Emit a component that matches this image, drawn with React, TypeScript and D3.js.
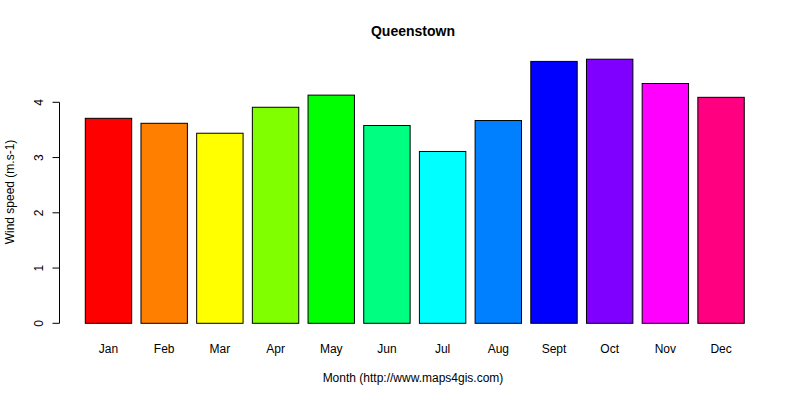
import { useEffect, useRef } from 'react';
import * as d3 from 'd3';

const months = ['Jan', 'Feb', 'Mar', 'Apr', 'May', 'Jun', 'Jul', 'Aug', 'Sept', 'Oct', 'Nov', 'Dec'];
const windSpeed = [3.71, 3.62, 3.44, 3.91, 4.13, 3.58, 3.11, 3.67, 4.74, 4.78, 4.34, 4.09];
const barColors = ['#FF0000', '#FF8000', '#FFFF00', '#80FF00', '#00FF00', '#00FF80', '#00FFFF', '#0080FF', '#0000FF', '#8000FF', '#FF00FF', '#FF0080'];
const yTicks = [0, 1, 2, 3, 4];

export default function App() {
    const svgRef = useRef<SVGSVGElement>(null);

    useEffect(() => {
        if (!svgRef.current) return;
        const W = 800, H = 400;
        const font = 'Arial, "Liberation Sans", sans-serif';

        const svg = d3.select(svgRef.current);
        svg.selectAll('*').remove();
        svg.append('rect').attr('width', W).attr('height', H).attr('fill', '#fff');

        const x = d3.scaleBand<string>()
            .domain(months)
            .range([80.65, 748.9])
            .paddingInner(1 / 6)
            .paddingOuter(1 / 12);
        const y = d3.scaleLinear().domain([0, 4]).range([323.3, 102.3]);

        // Bars
        svg.selectAll('.bar')
            .data(windSpeed)
            .join('rect')
            .attr('class', 'bar')
            .attr('x', (_, i) => x(months[i])!)
            .attr('y', d => y(d))
            .attr('width', x.bandwidth())
            .attr('height', d => y(0) - y(d))
            .attr('fill', (_, i) => barColors[i])
            .attr('stroke', '#000').attr('stroke-width', 1);

        // Month labels
        svg.selectAll('.mlbl')
            .data(months)
            .join('text')
            .attr('class', 'mlbl')
            .attr('x', d => x(d)! + x.bandwidth() / 2)
            .attr('y', 353)
            .attr('text-anchor', 'middle')
            .attr('font-family', font).attr('font-size', 12)
            .text(d => d);

        // Y axis
        const ax = svg.append('g').attr('transform', 'translate(59.5,0)');
        ax.append('line')
            .attr('x1', 0).attr('x2', 0)
            .attr('y1', y(0)).attr('y2', y(4))
            .attr('stroke', '#000');
        ax.selectAll('.tick')
            .data(yTicks)
            .join('line')
            .attr('x1', -7).attr('x2', 0)
            .attr('y1', d => y(d)).attr('y2', d => y(d))
            .attr('stroke', '#000');
        ax.selectAll('.tlbl')
            .data(yTicks)
            .join('text')
            .attr('transform', d => `translate(-17,${y(d)}) rotate(-90)`)
            .attr('text-anchor', 'middle')
            .attr('font-family', font).attr('font-size', 12)
            .text(d => d);

        // Title & axis labels
        svg.append('text')
            .attr('x', 413).attr('y', 36)
            .attr('text-anchor', 'middle')
            .attr('font-family', font).attr('font-size', 14).attr('font-weight', 'bold')
            .text('Queenstown');
        svg.append('text')
            .attr('x', 413).attr('y', 382)
            .attr('text-anchor', 'middle')
            .attr('font-family', font).attr('font-size', 12)
            .text('Month (http://www.maps4gis.com)');
        svg.append('text')
            .attr('transform', 'translate(14,192) rotate(-90)')
            .attr('text-anchor', 'middle')
            .attr('font-family', font).attr('font-size', 12)
            .text('Wind speed (m.s-1)');
    }, []);

    return <svg ref={svgRef} width={800} height={400} style={{ position: 'absolute', left: 0, top: 0 }} />;
}
